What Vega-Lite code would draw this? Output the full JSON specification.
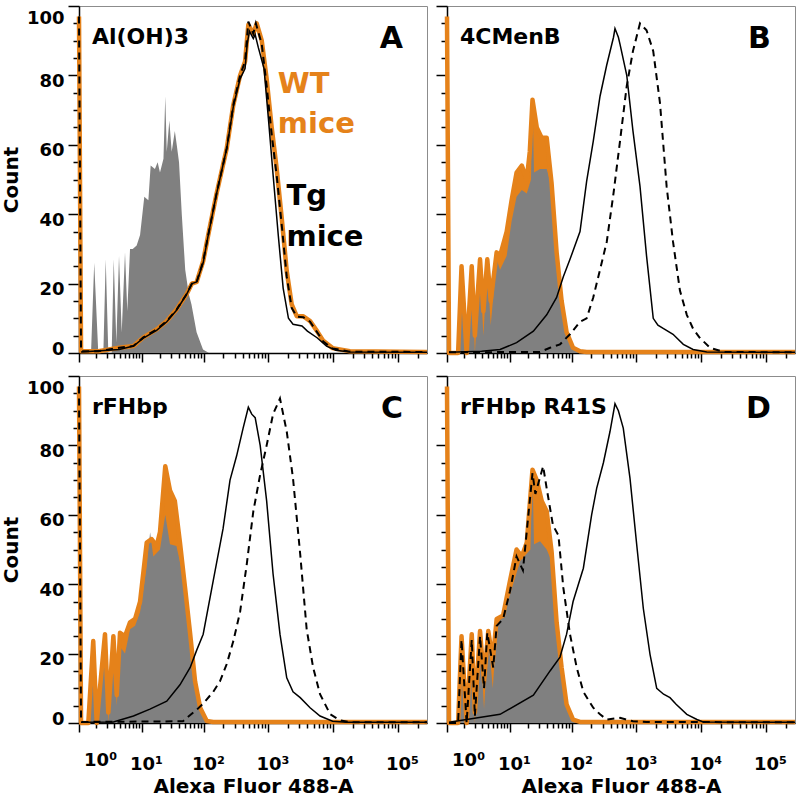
{
  "$schema": "https://vega.github.io/schema/vega-lite/v6.json",
  "padding": {"left": 0, "top": 4, "right": 0, "bottom": 0},
  "datasets": {
    "curves": [
      {"panel":"A","series":"control","x":0.64,"y":0},{"panel":"A","series":"control","x":0.86,"y":26},{"panel":"A","series":"control","x":1.18,"y":0},{"panel":"A","series":"control","x":1.65,"y":0},{"panel":"A","series":"control","x":1.9,"y":27},{"panel":"A","series":"control","x":2.2,"y":0},{"panel":"A","series":"control","x":2.63,"y":0},{"panel":"A","series":"control","x":2.92,"y":27},{"panel":"A","series":"control","x":3.32,"y":3},{"panel":"A","series":"control","x":3.77,"y":28},{"panel":"A","series":"control","x":4.27,"y":6},{"panel":"A","series":"control","x":4.95,"y":29},{"panel":"A","series":"control","x":5.47,"y":12},{"panel":"A","series":"control","x":6.15,"y":30},{"panel":"A","series":"control","x":6.9,"y":30},{"panel":"A","series":"control","x":8.1,"y":31},{"panel":"A","series":"control","x":9.3,"y":34},{"panel":"A","series":"control","x":11,"y":45},{"panel":"A","series":"control","x":12.9,"y":44},{"panel":"A","series":"control","x":14.1,"y":54},{"panel":"A","series":"control","x":16.6,"y":53},{"panel":"A","series":"control","x":18.4,"y":55},{"panel":"A","series":"control","x":20.1,"y":52},{"panel":"A","series":"control","x":22.9,"y":56},{"panel":"A","series":"control","x":24.5,"y":74},{"panel":"A","series":"control","x":25.9,"y":58},{"panel":"A","series":"control","x":28.5,"y":67},{"panel":"A","series":"control","x":31.1,"y":58},{"panel":"A","series":"control","x":34.9,"y":64},{"panel":"A","series":"control","x":37.4,"y":60},{"panel":"A","series":"control","x":40.7,"y":55},{"panel":"A","series":"control","x":45,"y":40},{"panel":"A","series":"control","x":51,"y":24},{"panel":"A","series":"control","x":58,"y":17},{"panel":"A","series":"control","x":64,"y":14},{"panel":"A","series":"control","x":77,"y":6},{"panel":"A","series":"control","x":97,"y":1},{"panel":"A","series":"control","x":120,"y":0},

      {"panel":"A","series":"wt","x":0,"y":97},{"panel":"A","series":"wt","x":0.09,"y":0.5},{"panel":"A","series":"wt","x":1.2,"y":0.5},{"panel":"A","series":"wt","x":3.8,"y":1.5},{"panel":"A","series":"wt","x":7.1,"y":2},{"panel":"A","series":"wt","x":10.6,"y":4.5},{"panel":"A","series":"wt","x":17.7,"y":6.8},{"panel":"A","series":"wt","x":25.9,"y":9.2},{"panel":"A","series":"wt","x":37.4,"y":12.6},{"panel":"A","series":"wt","x":53.9,"y":17},{"panel":"A","series":"wt","x":65,"y":20},{"panel":"A","series":"wt","x":77.3,"y":20.5},{"panel":"A","series":"wt","x":97.6,"y":26.5},{"panel":"A","series":"wt","x":117,"y":34},{"panel":"A","series":"wt","x":158,"y":46},{"panel":"A","series":"wt","x":227,"y":59},{"panel":"A","series":"wt","x":287,"y":71.5},{"panel":"A","series":"wt","x":365,"y":80},{"panel":"A","series":"wt","x":436,"y":84},{"panel":"A","series":"wt","x":490,"y":94.6},{"panel":"A","series":"wt","x":585,"y":92},{"panel":"A","series":"wt","x":660,"y":95},{"panel":"A","series":"wt","x":790,"y":90},{"panel":"A","series":"wt","x":940,"y":79},{"panel":"A","series":"wt","x":1125,"y":65},{"panel":"A","series":"wt","x":1345,"y":53},{"panel":"A","series":"wt","x":1605,"y":39},{"panel":"A","series":"wt","x":1920,"y":23.6},{"panel":"A","series":"wt","x":2290,"y":14},{"panel":"A","series":"wt","x":2740,"y":10.6},{"panel":"A","series":"wt","x":3460,"y":10.6},{"panel":"A","series":"wt","x":4400,"y":9.2},{"panel":"A","series":"wt","x":5640,"y":6.3},{"panel":"A","series":"wt","x":7040,"y":3.5},{"panel":"A","series":"wt","x":9800,"y":1.4},{"panel":"A","series":"wt","x":18100,"y":0.5},{"panel":"A","series":"wt","x":280000,"y":0.3},

      {"panel":"A","series":"tg","x":0.09,"y":0.3},{"panel":"A","series":"tg","x":3.8,"y":1},{"panel":"A","series":"tg","x":7.1,"y":2},{"panel":"A","series":"tg","x":10.6,"y":4.3},{"panel":"A","series":"tg","x":17.7,"y":6.5},{"panel":"A","series":"tg","x":25.9,"y":9},{"panel":"A","series":"tg","x":37.4,"y":12.4},{"panel":"A","series":"tg","x":53.9,"y":17},{"panel":"A","series":"tg","x":65,"y":20},{"panel":"A","series":"tg","x":77.3,"y":20.5},{"panel":"A","series":"tg","x":97.6,"y":26},{"panel":"A","series":"tg","x":117,"y":34},{"panel":"A","series":"tg","x":158,"y":46},{"panel":"A","series":"tg","x":227,"y":59},{"panel":"A","series":"tg","x":287,"y":71},{"panel":"A","series":"tg","x":365,"y":79},{"panel":"A","series":"tg","x":436,"y":82},{"panel":"A","series":"tg","x":470,"y":89},{"panel":"A","series":"tg","x":510,"y":92.7},{"panel":"A","series":"tg","x":585,"y":90.6},{"panel":"A","series":"tg","x":625,"y":91.8},{"panel":"A","series":"tg","x":700,"y":88},{"panel":"A","series":"tg","x":856,"y":82},{"panel":"A","series":"tg","x":1000,"y":67.6},{"panel":"A","series":"tg","x":1180,"y":51.5},{"panel":"A","series":"tg","x":1420,"y":34},{"panel":"A","series":"tg","x":1690,"y":18.7},{"panel":"A","series":"tg","x":2040,"y":10},{"panel":"A","series":"tg","x":2400,"y":8.3},{"panel":"A","series":"tg","x":3300,"y":7.8},{"panel":"A","series":"tg","x":4000,"y":6.3},{"panel":"A","series":"tg","x":5640,"y":4.4},{"panel":"A","series":"tg","x":7900,"y":2},{"panel":"A","series":"tg","x":11000,"y":0.8},{"panel":"A","series":"tg","x":18100,"y":0.3},{"panel":"A","series":"tg","x":280000,"y":0.2},

      {"panel":"A","series":"tg2","x":0,"y":97},{"panel":"A","series":"tg2","x":0.09,"y":0.5},{"panel":"A","series":"tg2","x":1.2,"y":0.5},{"panel":"A","series":"tg2","x":3.8,"y":1.5},{"panel":"A","series":"tg2","x":7.1,"y":2},{"panel":"A","series":"tg2","x":10.6,"y":4.5},{"panel":"A","series":"tg2","x":17.7,"y":6.8},{"panel":"A","series":"tg2","x":25.9,"y":9.2},{"panel":"A","series":"tg2","x":37.4,"y":12.6},{"panel":"A","series":"tg2","x":53.9,"y":17},{"panel":"A","series":"tg2","x":65,"y":20},{"panel":"A","series":"tg2","x":77.3,"y":20.5},{"panel":"A","series":"tg2","x":97.6,"y":26.5},{"panel":"A","series":"tg2","x":117,"y":34},{"panel":"A","series":"tg2","x":158,"y":46},{"panel":"A","series":"tg2","x":227,"y":59},{"panel":"A","series":"tg2","x":287,"y":71.5},{"panel":"A","series":"tg2","x":365,"y":80},{"panel":"A","series":"tg2","x":436,"y":84},{"panel":"A","series":"tg2","x":490,"y":95.5},{"panel":"A","series":"tg2","x":585,"y":92},{"panel":"A","series":"tg2","x":640,"y":95},{"panel":"A","series":"tg2","x":790,"y":89},{"panel":"A","series":"tg2","x":940,"y":77},{"panel":"A","series":"tg2","x":1125,"y":63},{"panel":"A","series":"tg2","x":1345,"y":51},{"panel":"A","series":"tg2","x":1605,"y":37},{"panel":"A","series":"tg2","x":1920,"y":22},{"panel":"A","series":"tg2","x":2290,"y":13},{"panel":"A","series":"tg2","x":2740,"y":10.5},{"panel":"A","series":"tg2","x":3460,"y":10.3},{"panel":"A","series":"tg2","x":4400,"y":9},{"panel":"A","series":"tg2","x":5640,"y":6},{"panel":"A","series":"tg2","x":7040,"y":3.3},{"panel":"A","series":"tg2","x":9800,"y":1.3},{"panel":"A","series":"tg2","x":18100,"y":0.4},{"panel":"A","series":"tg2","x":280000,"y":0.3},

      {"panel":"B","series":"wt","x":0,"y":97},{"panel":"B","series":"wt","x":0.09,"y":0},{"panel":"B","series":"wt","x":0.58,"y":0},{"panel":"B","series":"wt","x":0.81,"y":25},{"panel":"B","series":"wt","x":1.21,"y":0},{"panel":"B","series":"wt","x":1.69,"y":25},{"panel":"B","series":"wt","x":2.03,"y":5},{"panel":"B","series":"wt","x":2.68,"y":27},{"panel":"B","series":"wt","x":3.17,"y":12},{"panel":"B","series":"wt","x":3.82,"y":27},{"panel":"B","series":"wt","x":4.47,"y":15},{"panel":"B","series":"wt","x":5.8,"y":29},{"panel":"B","series":"wt","x":6.7,"y":28},{"panel":"B","series":"wt","x":8.8,"y":35},{"panel":"B","series":"wt","x":10.7,"y":44},{"panel":"B","series":"wt","x":13,"y":52},{"panel":"B","series":"wt","x":15.9,"y":54},{"panel":"B","series":"wt","x":19.2,"y":50},{"panel":"B","series":"wt","x":21.5,"y":58},{"panel":"B","series":"wt","x":23.8,"y":73},{"panel":"B","series":"wt","x":27.9,"y":65},{"panel":"B","series":"wt","x":33.5,"y":62},{"panel":"B","series":"wt","x":40.2,"y":62},{"panel":"B","series":"wt","x":48,"y":49},{"panel":"B","series":"wt","x":57.7,"y":29},{"panel":"B","series":"wt","x":69.1,"y":15},{"panel":"B","series":"wt","x":82.7,"y":6},{"panel":"B","series":"wt","x":104.5,"y":1.5},{"panel":"B","series":"wt","x":134,"y":0.5},{"panel":"B","series":"wt","x":170,"y":0.3},{"panel":"B","series":"wt","x":280000,"y":0.3},

      {"panel":"B","series":"control","x":0.58,"y":0},{"panel":"B","series":"control","x":0.81,"y":24},{"panel":"B","series":"control","x":1.21,"y":0},{"panel":"B","series":"control","x":1.69,"y":24},{"panel":"B","series":"control","x":2.03,"y":0},{"panel":"B","series":"control","x":2.68,"y":25},{"panel":"B","series":"control","x":3.17,"y":5},{"panel":"B","series":"control","x":3.82,"y":25},{"panel":"B","series":"control","x":4.47,"y":8},{"panel":"B","series":"control","x":5.8,"y":27},{"panel":"B","series":"control","x":6.7,"y":24},{"panel":"B","series":"control","x":8.8,"y":28},{"panel":"B","series":"control","x":10.7,"y":38},{"panel":"B","series":"control","x":13,"y":45},{"panel":"B","series":"control","x":15.9,"y":47},{"panel":"B","series":"control","x":19.2,"y":46},{"panel":"B","series":"control","x":22.5,"y":50},{"panel":"B","series":"control","x":23.8,"y":73},{"panel":"B","series":"control","x":25.2,"y":52},{"panel":"B","series":"control","x":31.5,"y":53},{"panel":"B","series":"control","x":40.2,"y":53},{"panel":"B","series":"control","x":48,"y":48},{"panel":"B","series":"control","x":57.7,"y":28},{"panel":"B","series":"control","x":69.1,"y":14},{"panel":"B","series":"control","x":82.7,"y":5},{"panel":"B","series":"control","x":104.5,"y":1},{"panel":"B","series":"control","x":134,"y":0},

      {"panel":"B","series":"tg","x":0.09,"y":0.2},{"panel":"B","series":"tg","x":2.9,"y":0.5},{"panel":"B","series":"tg","x":6.7,"y":1},{"panel":"B","series":"tg","x":13,"y":3},{"panel":"B","series":"tg","x":24.6,"y":6.3},{"panel":"B","series":"tg","x":40.2,"y":11},{"panel":"B","series":"tg","x":57.7,"y":16},{"panel":"B","series":"tg","x":73.5,"y":22},{"panel":"B","series":"tg","x":93.5,"y":27},{"panel":"B","series":"tg","x":134,"y":35},{"panel":"B","series":"tg","x":170,"y":49.5},{"panel":"B","series":"tg","x":215,"y":61},{"panel":"B","series":"tg","x":274,"y":74},{"panel":"B","series":"tg","x":348,"y":83},{"panel":"B","series":"tg","x":443,"y":91},{"panel":"B","series":"tg","x":467,"y":93.5},{"panel":"B","series":"tg","x":527,"y":91},{"panel":"B","series":"tg","x":558,"y":89},{"panel":"B","series":"tg","x":710,"y":80},{"panel":"B","series":"tg","x":885,"y":64},{"panel":"B","series":"tg","x":1137,"y":48},{"panel":"B","series":"tg","x":1435,"y":28},{"panel":"B","series":"tg","x":1820,"y":10},{"panel":"B","series":"tg","x":2150,"y":8},{"panel":"B","series":"tg","x":2630,"y":7},{"panel":"B","series":"tg","x":3680,"y":5.4},{"panel":"B","series":"tg","x":5300,"y":2.5},{"panel":"B","series":"tg","x":7500,"y":1},{"panel":"B","series":"tg","x":12200,"y":0.3},{"panel":"B","series":"tg","x":280000,"y":0.2},

      {"panel":"B","series":"tg2","x":0.09,"y":0.2},{"panel":"B","series":"tg2","x":31.4,"y":0.3},{"panel":"B","series":"tg2","x":45.4,"y":1.5},{"panel":"B","series":"tg2","x":65.2,"y":2.5},{"panel":"B","series":"tg2","x":93.5,"y":5.4},{"panel":"B","series":"tg2","x":134,"y":9},{"panel":"B","series":"tg2","x":170,"y":10},{"panel":"B","series":"tg2","x":215,"y":16},{"panel":"B","series":"tg2","x":274,"y":24},{"panel":"B","series":"tg2","x":348,"y":32},{"panel":"B","series":"tg2","x":443,"y":46},{"panel":"B","series":"tg2","x":558,"y":61},{"panel":"B","series":"tg2","x":710,"y":77},{"panel":"B","series":"tg2","x":885,"y":87},{"panel":"B","series":"tg2","x":1137,"y":95},{"panel":"B","series":"tg2","x":1435,"y":93},{"panel":"B","series":"tg2","x":1820,"y":87},{"panel":"B","series":"tg2","x":2315,"y":72},{"panel":"B","series":"tg2","x":2930,"y":48},{"panel":"B","series":"tg2","x":3680,"y":32},{"panel":"B","series":"tg2","x":4700,"y":18},{"panel":"B","series":"tg2","x":6000,"y":11},{"panel":"B","series":"tg2","x":7500,"y":7},{"panel":"B","series":"tg2","x":9500,"y":4.4},{"panel":"B","series":"tg2","x":13700,"y":1.5},{"panel":"B","series":"tg2","x":22500,"y":0.3},{"panel":"B","series":"tg2","x":280000,"y":0.2},

      {"panel":"C","series":"wt","x":0,"y":97},{"panel":"C","series":"wt","x":0.09,"y":0},{"panel":"C","series":"wt","x":0.47,"y":0},{"panel":"C","series":"wt","x":0.79,"y":23.6},{"panel":"C","series":"wt","x":1.05,"y":0},{"panel":"C","series":"wt","x":1.82,"y":25.6},{"panel":"C","series":"wt","x":2.2,"y":3},{"panel":"C","series":"wt","x":2.87,"y":25},{"panel":"C","series":"wt","x":3.39,"y":8},{"panel":"C","series":"wt","x":3.95,"y":26},{"panel":"C","series":"wt","x":4.95,"y":25},{"panel":"C","series":"wt","x":6.15,"y":29},{"panel":"C","series":"wt","x":7.6,"y":30},{"panel":"C","series":"wt","x":9.3,"y":35},{"panel":"C","series":"wt","x":12.1,"y":52},{"panel":"C","series":"wt","x":14.6,"y":53},{"panel":"C","series":"wt","x":17.7,"y":51},{"panel":"C","series":"wt","x":20.1,"y":55},{"panel":"C","series":"wt","x":24.5,"y":74},{"panel":"C","series":"wt","x":29.2,"y":67},{"panel":"C","series":"wt","x":34.9,"y":64},{"panel":"C","series":"wt","x":42.1,"y":52},{"panel":"C","series":"wt","x":50.7,"y":39},{"panel":"C","series":"wt","x":61.1,"y":25.6},{"panel":"C","series":"wt","x":72.9,"y":12},{"panel":"C","series":"wt","x":87.6,"y":4.4},{"panel":"C","series":"wt","x":111,"y":0.6},{"panel":"C","series":"wt","x":140,"y":0.3},{"panel":"C","series":"wt","x":280000,"y":0.3},

      {"panel":"C","series":"control","x":0.47,"y":0},{"panel":"C","series":"control","x":0.79,"y":23},{"panel":"C","series":"control","x":1.05,"y":0},{"panel":"C","series":"control","x":1.82,"y":24},{"panel":"C","series":"control","x":2.2,"y":0},{"panel":"C","series":"control","x":2.87,"y":24},{"panel":"C","series":"control","x":3.39,"y":5},{"panel":"C","series":"control","x":3.95,"y":22},{"panel":"C","series":"control","x":4.95,"y":20},{"panel":"C","series":"control","x":6.15,"y":27},{"panel":"C","series":"control","x":7.6,"y":28},{"panel":"C","series":"control","x":9.3,"y":32},{"panel":"C","series":"control","x":12.1,"y":45},{"panel":"C","series":"control","x":13.8,"y":55},{"panel":"C","series":"control","x":15.6,"y":48},{"panel":"C","series":"control","x":20.1,"y":50},{"panel":"C","series":"control","x":24.5,"y":60},{"panel":"C","series":"control","x":29.2,"y":51.5},{"panel":"C","series":"control","x":37,"y":51},{"panel":"C","series":"control","x":45,"y":44},{"panel":"C","series":"control","x":54,"y":35},{"panel":"C","series":"control","x":65,"y":22},{"panel":"C","series":"control","x":77,"y":10},{"panel":"C","series":"control","x":91,"y":3},{"panel":"C","series":"control","x":111,"y":0.5},{"panel":"C","series":"control","x":140,"y":0},

      {"panel":"C","series":"tg","x":0.09,"y":0.2},{"panel":"C","series":"tg","x":2.87,"y":0.3},{"panel":"C","series":"tg","x":7.1,"y":2},{"panel":"C","series":"tg","x":13.7,"y":4},{"panel":"C","series":"tg","x":25.9,"y":6.3},{"panel":"C","series":"tg","x":42.1,"y":11},{"panel":"C","series":"tg","x":61.1,"y":16},{"panel":"C","series":"tg","x":77.3,"y":21},{"panel":"C","series":"tg","x":97.6,"y":25.6},{"panel":"C","series":"tg","x":140,"y":41},{"panel":"C","series":"tg","x":199,"y":56},{"panel":"C","series":"tg","x":255,"y":70},{"panel":"C","series":"tg","x":323,"y":77},{"panel":"C","series":"tg","x":407,"y":85},{"panel":"C","series":"tg","x":490,"y":91},{"panel":"C","series":"tg","x":553,"y":89},{"panel":"C","series":"tg","x":625,"y":88},{"panel":"C","series":"tg","x":747,"y":80},{"panel":"C","series":"tg","x":940,"y":64},{"panel":"C","series":"tg","x":1180,"y":43},{"panel":"C","series":"tg","x":1510,"y":25.6},{"panel":"C","series":"tg","x":1920,"y":13},{"panel":"C","series":"tg","x":2400,"y":9},{"panel":"C","series":"tg","x":3100,"y":7.3},{"panel":"C","series":"tg","x":4400,"y":4.4},{"panel":"C","series":"tg","x":6270,"y":2},{"panel":"C","series":"tg","x":9800,"y":0.5},{"panel":"C","series":"tg","x":16000,"y":0.2},{"panel":"C","series":"tg","x":280000,"y":0.2},

      {"panel":"C","series":"tg2","x":0,"y":97},{"panel":"C","series":"tg2","x":0.09,"y":0.3},{"panel":"C","series":"tg2","x":47,"y":0.5},{"panel":"C","series":"tg2","x":54,"y":1.5},{"panel":"C","series":"tg2","x":77.3,"y":3.8},{"panel":"C","series":"tg2","x":97.6,"y":5.6},{"panel":"C","series":"tg2","x":140,"y":9},{"panel":"C","series":"tg2","x":178,"y":12},{"panel":"C","series":"tg2","x":227,"y":17},{"panel":"C","series":"tg2","x":287,"y":23.6},{"panel":"C","series":"tg2","x":365,"y":32},{"panel":"C","series":"tg2","x":462,"y":45.6},{"panel":"C","series":"tg2","x":585,"y":61},{"panel":"C","series":"tg2","x":747,"y":71.6},{"panel":"C","series":"tg2","x":940,"y":80},{"panel":"C","series":"tg2","x":1180,"y":89},{"panel":"C","series":"tg2","x":1510,"y":93.5},{"panel":"C","series":"tg2","x":1920,"y":84},{"panel":"C","series":"tg2","x":2400,"y":70.5},{"panel":"C","series":"tg2","x":3100,"y":48.6},{"panel":"C","series":"tg2","x":3900,"y":27},{"panel":"C","series":"tg2","x":4900,"y":16},{"panel":"C","series":"tg2","x":6270,"y":8.3},{"panel":"C","series":"tg2","x":9000,"y":2.5},{"panel":"C","series":"tg2","x":12700,"y":0.8},{"panel":"C","series":"tg2","x":18100,"y":0.2},{"panel":"C","series":"tg2","x":280000,"y":0.2},

      {"panel":"D","series":"wt","x":0,"y":97},{"panel":"D","series":"wt","x":0.09,"y":0},{"panel":"D","series":"wt","x":0.58,"y":0},{"panel":"D","series":"wt","x":0.81,"y":25},{"panel":"D","series":"wt","x":1.21,"y":0},{"panel":"D","series":"wt","x":1.69,"y":25.6},{"panel":"D","series":"wt","x":2.03,"y":3},{"panel":"D","series":"wt","x":2.68,"y":26.5},{"panel":"D","series":"wt","x":3.27,"y":12},{"panel":"D","series":"wt","x":4.0,"y":26.5},{"panel":"D","series":"wt","x":4.9,"y":18},{"panel":"D","series":"wt","x":5.8,"y":30},{"panel":"D","series":"wt","x":7.6,"y":31},{"panel":"D","series":"wt","x":10.05,"y":41},{"panel":"D","series":"wt","x":13,"y":50},{"panel":"D","series":"wt","x":15.9,"y":48},{"panel":"D","series":"wt","x":19.2,"y":52},{"panel":"D","series":"wt","x":23.8,"y":73},{"panel":"D","series":"wt","x":27.9,"y":70},{"panel":"D","series":"wt","x":33.5,"y":64},{"panel":"D","series":"wt","x":40.2,"y":61},{"panel":"D","series":"wt","x":48,"y":49.5},{"panel":"D","series":"wt","x":57.7,"y":29},{"panel":"D","series":"wt","x":69.1,"y":16},{"panel":"D","series":"wt","x":82.7,"y":5.4},{"panel":"D","series":"wt","x":104.5,"y":1},{"panel":"D","series":"wt","x":134,"y":0.3},{"panel":"D","series":"wt","x":280000,"y":0.3},

      {"panel":"D","series":"control","x":0.58,"y":0},{"panel":"D","series":"control","x":0.81,"y":24},{"panel":"D","series":"control","x":1.21,"y":0},{"panel":"D","series":"control","x":1.69,"y":24},{"panel":"D","series":"control","x":2.03,"y":0},{"panel":"D","series":"control","x":2.68,"y":25},{"panel":"D","series":"control","x":3.27,"y":4},{"panel":"D","series":"control","x":4.0,"y":25},{"panel":"D","series":"control","x":4.9,"y":10},{"panel":"D","series":"control","x":5.8,"y":27},{"panel":"D","series":"control","x":6.5,"y":29},{"panel":"D","series":"control","x":10.05,"y":37},{"panel":"D","series":"control","x":14.9,"y":46.6},{"panel":"D","series":"control","x":22,"y":50},{"panel":"D","series":"control","x":23.8,"y":72},{"panel":"D","series":"control","x":25.2,"y":51.5},{"panel":"D","series":"control","x":31.5,"y":52.4},{"panel":"D","series":"control","x":40.2,"y":50},{"panel":"D","series":"control","x":48,"y":46.6},{"panel":"D","series":"control","x":57.7,"y":28},{"panel":"D","series":"control","x":69.1,"y":15},{"panel":"D","series":"control","x":82.7,"y":5},{"panel":"D","series":"control","x":104.5,"y":1},{"panel":"D","series":"control","x":134,"y":0},

      {"panel":"D","series":"tg","x":0.09,"y":0.2},{"panel":"D","series":"tg","x":6.7,"y":2.5},{"panel":"D","series":"tg","x":24.6,"y":8},{"panel":"D","series":"tg","x":45.4,"y":15},{"panel":"D","series":"tg","x":65.2,"y":19},{"panel":"D","series":"tg","x":82.7,"y":25.6},{"panel":"D","series":"tg","x":104.5,"y":35},{"panel":"D","series":"tg","x":151,"y":44.6},{"panel":"D","series":"tg","x":203,"y":60},{"panel":"D","series":"tg","x":243,"y":67.6},{"panel":"D","series":"tg","x":309,"y":75},{"panel":"D","series":"tg","x":391,"y":84},{"panel":"D","series":"tg","x":467,"y":92},{"panel":"D","series":"tg","x":527,"y":90},{"panel":"D","series":"tg","x":627,"y":85},{"panel":"D","series":"tg","x":797,"y":70.5},{"panel":"D","series":"tg","x":1010,"y":51.5},{"panel":"D","series":"tg","x":1280,"y":33},{"panel":"D","series":"tg","x":1623,"y":19.8},{"panel":"D","series":"tg","x":2060,"y":10},{"panel":"D","series":"tg","x":2630,"y":8.3},{"panel":"D","series":"tg","x":3300,"y":7.3},{"panel":"D","series":"tg","x":4100,"y":5.4},{"panel":"D","series":"tg","x":6000,"y":2.5},{"panel":"D","series":"tg","x":8600,"y":1},{"panel":"D","series":"tg","x":10700,"y":0.3},{"panel":"D","series":"tg","x":280000,"y":0.2},

      {"panel":"D","series":"tg2","x":0.09,"y":0},{"panel":"D","series":"tg2","x":0.58,"y":0},{"panel":"D","series":"tg2","x":0.81,"y":24},{"panel":"D","series":"tg2","x":1.21,"y":0},{"panel":"D","series":"tg2","x":1.69,"y":24},{"panel":"D","series":"tg2","x":2.03,"y":2},{"panel":"D","series":"tg2","x":2.68,"y":25},{"panel":"D","series":"tg2","x":3.27,"y":10},{"panel":"D","series":"tg2","x":3.82,"y":26},{"panel":"D","series":"tg2","x":5.0,"y":16},{"panel":"D","series":"tg2","x":5.8,"y":28},{"panel":"D","series":"tg2","x":7.6,"y":30},{"panel":"D","series":"tg2","x":10.05,"y":38},{"panel":"D","series":"tg2","x":13,"y":48},{"panel":"D","series":"tg2","x":16.6,"y":44},{"panel":"D","series":"tg2","x":23.8,"y":72},{"panel":"D","series":"tg2","x":26.5,"y":66},{"panel":"D","series":"tg2","x":35.3,"y":74},{"panel":"D","series":"tg2","x":40.2,"y":67.6},{"panel":"D","series":"tg2","x":50.5,"y":57},{"panel":"D","series":"tg2","x":61.7,"y":54},{"panel":"D","series":"tg2","x":73.5,"y":39},{"panel":"D","series":"tg2","x":93.5,"y":25.6},{"panel":"D","series":"tg2","x":119,"y":16},{"panel":"D","series":"tg2","x":151,"y":9},{"panel":"D","series":"tg2","x":215,"y":4.4},{"panel":"D","series":"tg2","x":274,"y":2.5},{"panel":"D","series":"tg2","x":348,"y":1},{"panel":"D","series":"tg2","x":558,"y":1.5},{"panel":"D","series":"tg2","x":885,"y":0.5},{"panel":"D","series":"tg2","x":1435,"y":0.3},{"panel":"D","series":"tg2","x":280000,"y":0.2}
    ]
  },
  "columns": 2,
  "spacing": {"row": 23, "column": 20},
  "bounds": "flush",
  "concat": [
    {
      "width": 348, "height": 347,
      "resolve": {"axis": {"x": "independent", "y": "independent"}},
      "layer": [
        {
          "data": {"name": "curves"},
          "encoding": {
            "x": {"field": "x", "type": "quantitative", "scale": {"type": "symlog", "constant": 1.2, "domain": [0, 280000], "nice": false},
              "axis": {"orient": "bottom", "values": [0,1,2,3,4,5,6,7,8,9,10,20,30,40,50,60,70,80,90,100,200,300,400,500,600,700,800,900,1000,2000,3000,4000,5000,6000,7000,8000,9000,10000,20000,30000,40000,50000,60000,70000,80000,90000,100000,200000],
                "labels": false, "title": null,
                "tickSize": {"condition": {"test": "indexof([0,10,100,1000,10000,100000], datum.value) >= 0", "value": 9}, "value": 5}}},
            "y": {"field": "y", "type": "quantitative", "scale": {"domain": [0, 100], "nice": false},
              "axis": {"orient": "left", "values": [0,5,10,15,20,25,30,35,40,45,50,55,60,65,70,75,80,85,90,95,100],
                "labelExpr": "datum.value % 20 === 0 ? datum.label : ''", "labelFontSize": 18, "labelPadding": 4,
                "labelOffset": {"condition": [{"test": "datum.value === 0", "value": -4}, {"test": "datum.value === 100", "value": 12}], "value": 6},
                "tickSize": {"condition": {"test": "datum.value % 20 === 0", "value": 11}, "value": 6},
                "title": "Count", "titleFontSize": 20, "titlePadding": 5}}
          },
          "layer": [
            {"transform": [{"filter": "datum.panel === 'A' && datum.series === 'control'"}], "mark": {"type": "area", "color": "#808080"}},
            {"transform": [{"filter": "datum.panel === 'A' && datum.series === 'wt'"}], "mark": {"type": "line", "color": "#E5821A", "strokeWidth": 4.5, "strokeJoin": "round"}},
            {"transform": [{"filter": "datum.panel === 'A' && datum.series === 'tg'"}], "mark": {"type": "line", "color": "black", "strokeWidth": 1.5}},
            {"transform": [{"filter": "datum.panel === 'A' && datum.series === 'tg2'"}], "mark": {"type": "line", "color": "black", "strokeWidth": 2, "strokeDash": [7, 5]}}
          ]
        },
        {"data": {"values": [{"label": "Al(OH)3"}]}, "mark": {"type": "text", "align": "left", "baseline": "alphabetic", "fontSize": 22, "color": "black"}, "encoding": {"x": {"datum": 0.7, "axis": null}, "y": {"datum": 89, "axis": null}, "text": {"field": "label"}}},
        {"data": {"values": [{"label": "A"}]}, "mark": {"type": "text", "align": "right", "baseline": "alphabetic", "fontSize": 30, "color": "black"}, "encoding": {"x": {"datum": 119000, "axis": null}, "y": {"datum": 88, "axis": null}, "text": {"field": "label"}}},
        {"data": {"values": [{"label": "WT"}]}, "mark": {"type": "text", "align": "left", "baseline": "alphabetic", "fontSize": 29, "color": "#E5821A"}, "encoding": {"x": {"datum": 1400, "axis": null}, "y": {"datum": 74.8, "axis": null}, "text": {"field": "label"}}},
        {"data": {"values": [{"label": "mice"}]}, "mark": {"type": "text", "align": "left", "baseline": "alphabetic", "fontSize": 29, "color": "#E5821A"}, "encoding": {"x": {"datum": 1400, "axis": null}, "y": {"datum": 63.3, "axis": null}, "text": {"field": "label"}}},
        {"data": {"values": [{"label": "Tg"}]}, "mark": {"type": "text", "align": "left", "baseline": "alphabetic", "fontSize": 29, "color": "black"}, "encoding": {"x": {"datum": 1900, "axis": null}, "y": {"datum": 42.6, "axis": null}, "text": {"field": "label"}}},
        {"data": {"values": [{"label": "mice"}]}, "mark": {"type": "text", "align": "left", "baseline": "alphabetic", "fontSize": 29, "color": "black"}, "encoding": {"x": {"datum": 1900, "axis": null}, "y": {"datum": 30.8, "axis": null}, "text": {"field": "label"}}}
      ]
    },
    {
      "width": 348, "height": 347,
      "resolve": {"axis": {"x": "independent", "y": "independent"}},
      "layer": [
        {
          "data": {"name": "curves"},
          "encoding": {
            "x": {"field": "x", "type": "quantitative", "scale": {"type": "symlog", "constant": 1.2, "domain": [0, 280000], "nice": false},
              "axis": {"orient": "bottom", "values": [0,1,2,3,4,5,6,7,8,9,10,20,30,40,50,60,70,80,90,100,200,300,400,500,600,700,800,900,1000,2000,3000,4000,5000,6000,7000,8000,9000,10000,20000,30000,40000,50000,60000,70000,80000,90000,100000,200000],
                "labels": false, "title": null,
                "tickSize": {"condition": {"test": "indexof([0,10,100,1000,10000,100000], datum.value) >= 0", "value": 9}, "value": 5}}},
            "y": {"field": "y", "type": "quantitative", "scale": {"domain": [0, 100], "nice": false},
              "axis": {"orient": "left", "values": [0,5,10,15,20,25,30,35,40,45,50,55,60,65,70,75,80,85,90,95,100],
                "labels": false, "title": null,
                "tickSize": {"condition": {"test": "datum.value % 20 === 0", "value": 11}, "value": 6}}}
          },
          "layer": [
            {"transform": [{"filter": "datum.panel === 'B' && datum.series === 'wt'"}], "mark": {"type": "area", "color": "#E5821A"}},
            {"transform": [{"filter": "datum.panel === 'B' && datum.series === 'control'"}], "mark": {"type": "area", "color": "#808080"}},
            {"transform": [{"filter": "datum.panel === 'B' && datum.series === 'wt'"}], "mark": {"type": "line", "color": "#E5821A", "strokeWidth": 4.5, "strokeJoin": "round"}},
            {"transform": [{"filter": "datum.panel === 'B' && datum.series === 'tg'"}], "mark": {"type": "line", "color": "black", "strokeWidth": 1.5}},
            {"transform": [{"filter": "datum.panel === 'B' && datum.series === 'tg2'"}], "mark": {"type": "line", "color": "black", "strokeWidth": 2, "strokeDash": [7, 5]}}
          ]
        },
        {"data": {"values": [{"label": "4CMenB"}]}, "mark": {"type": "text", "align": "left", "baseline": "alphabetic", "fontSize": 22, "color": "black"}, "encoding": {"x": {"datum": 0.7, "axis": null}, "y": {"datum": 89, "axis": null}, "text": {"field": "label"}}},
        {"data": {"values": [{"label": "B"}]}, "mark": {"type": "text", "align": "right", "baseline": "alphabetic", "fontSize": 30, "color": "black"}, "encoding": {"x": {"datum": 119000, "axis": null}, "y": {"datum": 88, "axis": null}, "text": {"field": "label"}}}
      ]
    },
    {
      "width": 348, "height": 347,
      "resolve": {"axis": {"x": "independent", "y": "independent"}},
      "layer": [
        {
          "data": {"name": "curves"},
          "encoding": {
            "x": {"field": "x", "type": "quantitative", "scale": {"type": "symlog", "constant": 1.2, "domain": [0, 280000], "nice": false},
              "axis": {"orient": "bottom", "values": [0,1,2,3,4,5,6,7,8,9,10,20,30,40,50,60,70,80,90,100,200,300,400,500,600,700,800,900,1000,2000,3000,4000,5000,6000,7000,8000,9000,10000,20000,30000,40000,50000,60000,70000,80000,90000,100000,200000],
                "labelExpr": "indexof([1,10,100,1000,10000,100000], datum.value) >= 0 ? '10' + ['⁰','¹','²','³','⁴','⁵'][indexof([1,10,100,1000,10000,100000], datum.value)] : ''",
                "labelFontSize": 18, "labelOffset": 4, "labelPadding": 23,
                "title": "Alexa Fluor 488-A", "titleFontSize": 20, "titlePadding": 3,
                "tickSize": {"condition": {"test": "indexof([0,10,100,1000,10000,100000], datum.value) >= 0", "value": 9}, "value": 5}}},
            "y": {"field": "y", "type": "quantitative", "scale": {"domain": [0, 100], "nice": false},
              "axis": {"orient": "left", "values": [0,5,10,15,20,25,30,35,40,45,50,55,60,65,70,75,80,85,90,95,100],
                "labelExpr": "datum.value % 20 === 0 ? datum.label : ''", "labelFontSize": 18, "labelPadding": 4,
                "labelOffset": {"condition": [{"test": "datum.value === 0", "value": -4}, {"test": "datum.value === 100", "value": 12}], "value": 6},
                "tickSize": {"condition": {"test": "datum.value % 20 === 0", "value": 11}, "value": 6},
                "title": "Count", "titleFontSize": 20, "titlePadding": 5}}
          },
          "layer": [
            {"transform": [{"filter": "datum.panel === 'C' && datum.series === 'wt'"}], "mark": {"type": "area", "color": "#E5821A"}},
            {"transform": [{"filter": "datum.panel === 'C' && datum.series === 'control'"}], "mark": {"type": "area", "color": "#808080"}},
            {"transform": [{"filter": "datum.panel === 'C' && datum.series === 'wt'"}], "mark": {"type": "line", "color": "#E5821A", "strokeWidth": 4.5, "strokeJoin": "round"}},
            {"transform": [{"filter": "datum.panel === 'C' && datum.series === 'tg'"}], "mark": {"type": "line", "color": "black", "strokeWidth": 1.5}},
            {"transform": [{"filter": "datum.panel === 'C' && datum.series === 'tg2'"}], "mark": {"type": "line", "color": "black", "strokeWidth": 2, "strokeDash": [7, 5]}}
          ]
        },
        {"data": {"values": [{"label": "rFHbp"}]}, "mark": {"type": "text", "align": "left", "baseline": "alphabetic", "fontSize": 22, "color": "black"}, "encoding": {"x": {"datum": 0.7, "axis": null}, "y": {"datum": 89, "axis": null}, "text": {"field": "label"}}},
        {"data": {"values": [{"label": "C"}]}, "mark": {"type": "text", "align": "right", "baseline": "alphabetic", "fontSize": 30, "color": "black"}, "encoding": {"x": {"datum": 119000, "axis": null}, "y": {"datum": 88, "axis": null}, "text": {"field": "label"}}}
      ]
    },
    {
      "width": 348, "height": 347,
      "resolve": {"axis": {"x": "independent", "y": "independent"}},
      "layer": [
        {
          "data": {"name": "curves"},
          "encoding": {
            "x": {"field": "x", "type": "quantitative", "scale": {"type": "symlog", "constant": 1.2, "domain": [0, 280000], "nice": false},
              "axis": {"orient": "bottom", "values": [0,1,2,3,4,5,6,7,8,9,10,20,30,40,50,60,70,80,90,100,200,300,400,500,600,700,800,900,1000,2000,3000,4000,5000,6000,7000,8000,9000,10000,20000,30000,40000,50000,60000,70000,80000,90000,100000,200000],
                "labelExpr": "indexof([1,10,100,1000,10000,100000], datum.value) >= 0 ? '10' + ['⁰','¹','²','³','⁴','⁵'][indexof([1,10,100,1000,10000,100000], datum.value)] : ''",
                "labelFontSize": 18, "labelOffset": 4, "labelPadding": 23,
                "title": "Alexa Fluor 488-A", "titleFontSize": 20, "titlePadding": 3,
                "tickSize": {"condition": {"test": "indexof([0,10,100,1000,10000,100000], datum.value) >= 0", "value": 9}, "value": 5}}},
            "y": {"field": "y", "type": "quantitative", "scale": {"domain": [0, 100], "nice": false},
              "axis": {"orient": "left", "values": [0,5,10,15,20,25,30,35,40,45,50,55,60,65,70,75,80,85,90,95,100],
                "labels": false, "title": null,
                "tickSize": {"condition": {"test": "datum.value % 20 === 0", "value": 11}, "value": 6}}}
          },
          "layer": [
            {"transform": [{"filter": "datum.panel === 'D' && datum.series === 'wt'"}], "mark": {"type": "area", "color": "#E5821A"}},
            {"transform": [{"filter": "datum.panel === 'D' && datum.series === 'control'"}], "mark": {"type": "area", "color": "#808080"}},
            {"transform": [{"filter": "datum.panel === 'D' && datum.series === 'wt'"}], "mark": {"type": "line", "color": "#E5821A", "strokeWidth": 4.5, "strokeJoin": "round"}},
            {"transform": [{"filter": "datum.panel === 'D' && datum.series === 'tg'"}], "mark": {"type": "line", "color": "black", "strokeWidth": 1.5}},
            {"transform": [{"filter": "datum.panel === 'D' && datum.series === 'tg2'"}], "mark": {"type": "line", "color": "black", "strokeWidth": 2, "strokeDash": [7, 5]}}
          ]
        },
        {"data": {"values": [{"label": "rFHbp R41S"}]}, "mark": {"type": "text", "align": "left", "baseline": "alphabetic", "fontSize": 22, "color": "black"}, "encoding": {"x": {"datum": 0.7, "axis": null}, "y": {"datum": 89, "axis": null}, "text": {"field": "label"}}},
        {"data": {"values": [{"label": "D"}]}, "mark": {"type": "text", "align": "right", "baseline": "alphabetic", "fontSize": 30, "color": "black"}, "encoding": {"x": {"datum": 119000, "axis": null}, "y": {"datum": 88, "axis": null}, "text": {"field": "label"}}}
      ]
    }
  ],
  "config": {
    "view": {"stroke": "#8c8c8c", "strokeWidth": 1},
    "axis": {"labelFont": "DejaVu Sans", "labelFontWeight": "bold", "titleFont": "DejaVu Sans", "titleFontWeight": "bold", "labelColor": "black", "titleColor": "black", "domainColor": "black", "domainWidth": 1.5, "tickColor": "black", "tickWidth": 1.5, "grid": false, "labelOverlap": false, "labelBound": false, "labelFlush": false},
    "text": {"font": "DejaVu Sans", "fontWeight": "bold"}
  }
}
